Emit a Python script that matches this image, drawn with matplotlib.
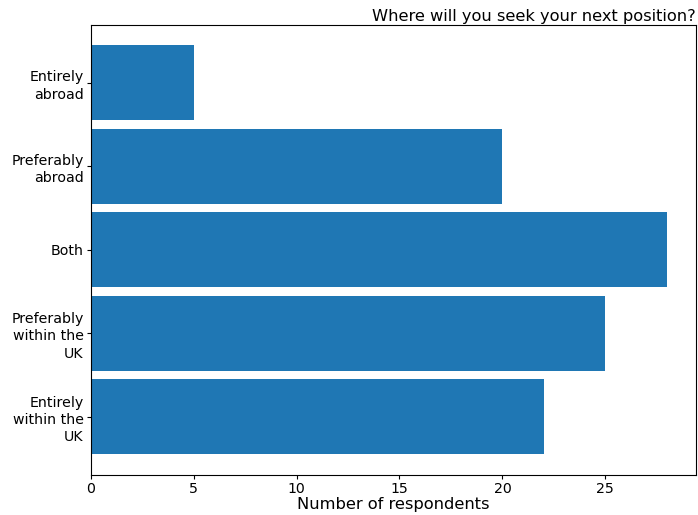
import matplotlib
matplotlib.use("Agg")
import matplotlib.pyplot as plt

categories = ["Entirely\nwithin the\nUK", "Preferably\nwithin the\nUK", "Both", "Preferably\nabroad", "Entirely\nabroad"]
values = [22, 25, 28, 20, 5]
xticks = [0, 5, 10, 15, 20, 25]

fig = plt.figure(figsize=(6.98, 5.15), dpi=100)
ax = fig.add_axes([0.130, 0.078, 0.867, 0.874])
ax.barh(categories, values, height=0.9, color="#1f77b4")
ax.set_xlabel("Number of respondents", fontsize=11.7, labelpad=1)
ax.set_title("Where will you seek your next position?", loc="right", fontsize=11.7, pad=3)
ax.tick_params(axis="both", labelsize=10.2, length=3, pad=2.2)
for lbl in ax.get_yticklabels():
    lbl.set_linespacing(1.3)
ax.set_xticks(xticks)
fig.savefig("out.png", dpi=100)
